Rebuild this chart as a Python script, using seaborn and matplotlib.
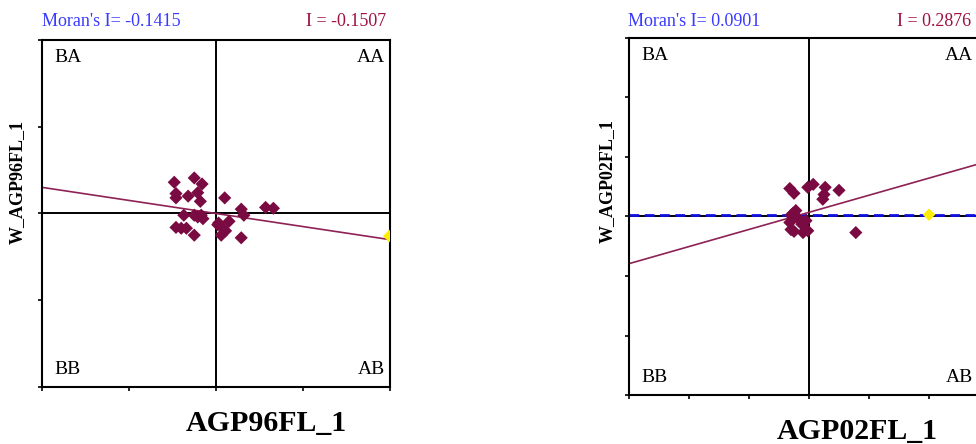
import matplotlib
matplotlib.use("Agg")
import matplotlib.pyplot as plt
import seaborn as sns
import pandas as pd

# panel (a): AGP96FL_1 standardised values and spatial lag
x96 = [-0.48, -0.25, -0.16, -0.46, -0.46, -0.32, -0.21, -0.18, 0.10, -0.37,
       -0.25, -0.17, -0.15, -0.46, -0.40, -0.34, -0.25, 0.03, 0.07, 0.06,
       0.11, 0.15, 0.29, 0.32, 0.29, 0.57, 0.66, -0.21, 0.02]
w96 = [0.36, 0.41, 0.34, 0.23, 0.18, 0.20, 0.24, 0.14, 0.18, -0.02,
       -0.02, -0.02, -0.06, -0.16, -0.17, -0.17, -0.25, -0.11, -0.16, -0.25,
       -0.20, -0.09, 0.05, -0.02, -0.28, 0.07, 0.06, -0.04, -0.13]
hi96 = ([1.99], [-0.26])
moran96 = "Moran's I= -0.1415"
slope96 = -0.1507
icpt96 = 0.0

# panel (b): AGP02FL_1
x02 = [-0.32, -0.25, -0.02, 0.07, 0.27, 0.25, 0.23, 0.50, -0.30, -0.32,
       -0.30, -0.25, -0.12, -0.05, -0.10, -0.02, 0.78, -0.22, -0.18, -0.27]
w02 = [0.47, 0.39, 0.49, 0.54, 0.49, 0.37, 0.29, 0.44, 0.02, -0.10,
       -0.22, -0.25, -0.13, -0.07, -0.27, -0.24, -0.27, 0.10, -0.03, 0.05]
hi02 = ([2.0], [0.03])
moran02 = "Moran's I= 0.0901"
slope02 = 0.2876
icpt02 = 0.07
flat02 = 0.03

quads = ["BA", "AA", "BB", "AB"]

sns.set_style("white")
plt.rcParams["font.family"] = ["Liberation Serif", "DejaVu Serif"]
plt.rcParams["text.color"] = "black"

W, H = 976, 444
fig = plt.figure(figsize=(W / 100, H / 100), dpi=100)
ax1 = fig.add_axes([42 / W, 1 - 387 / H, 348 / W, 347 / H])
ax2 = fig.add_axes([629 / W, 1 - 395 / H, 360 / W, 357 / H])

pt_col = "#7a0a42"
ln_col = "#8e2256"


def panel(ax, xs, ys, hi, slope, icpt, lim, right_pos):
    df = pd.DataFrame({"x": xs, "y": ys})
    ax.axhline(0, color="black", lw=1.4, zorder=1)
    ax.axvline(0, color="black", lw=1.4, zorder=1)
    ax.axline((0, icpt), slope=slope, color=ln_col, lw=1.2, zorder=2)
    sns.scatterplot(data=df, x="x", y="y", ax=ax, marker="D", s=45,
                    color=pt_col, edgecolor="none", zorder=3)
    sns.scatterplot(x=hi[0], y=hi[1], ax=ax, marker="D", s=40,
                    color="#ffee00", edgecolor="none", zorder=4)
    ax.set_xlim(-lim, lim)
    ax.set_ylim(-lim, lim)
    ticks = list(range(-lim, lim + 1))
    ax.set_xticks(ticks)
    ax.set_yticks(ticks)
    ax.set_xticklabels([])
    ax.set_yticklabels([])
    ax.tick_params(axis="both", direction="out", length=3, width=1.2,
                   color="black", bottom=True, left=True)
    ax.set_xlabel("")
    ax.set_ylabel("")
    for s in ax.spines.values():
        s.set_color("black")
        s.set_linewidth(1.5)
    box = dict(facecolor="white", edgecolor="none", pad=2)
    ax.text(0.035, 0.975, quads[0], transform=ax.transAxes, ha="left",
            va="top", fontsize=14, bbox=box, zorder=5)
    ax.text(right_pos, 0.975, quads[1], transform=ax.transAxes, ha="right",
            va="top", fontsize=14, bbox=box, zorder=5)
    ax.text(0.035, 0.025, quads[2], transform=ax.transAxes, ha="left",
            va="bottom", fontsize=14, bbox=box, zorder=5)
    ax.text(right_pos, 0.025, quads[3], transform=ax.transAxes, ha="right",
            va="bottom", fontsize=14, bbox=box, zorder=5)


panel(ax1, x96, w96, hi96, slope96, icpt96, 2, 0.985)
panel(ax2, x02, w02, hi02, slope02, icpt02, 3, 0.955)
ax2.axhline(flat02, color="#1010e0", lw=2, ls=(0, (3.5, 2)), zorder=1.5)

# header texts above each panel
fig.text(42 / W, 1 - 21 / H, moran96, color="#3a3aff", fontsize=13, va="center")
fig.text(386 / W, 1 - 21 / H, "I = %.4f" % slope96, color="#a01040",
         fontsize=13, va="center", ha="right")
fig.text(628 / W, 1 - 21 / H, moran02, color="#3a3aff", fontsize=13, va="center")
fig.text(971 / W, 1 - 21 / H, "I = %.4f" % slope02, color="#a01040",
         fontsize=13, va="center", ha="right")

# axis titles
fig.text(266 / W, 1 - 423 / H, "AGP96FL_1", fontsize=21.5, fontweight="bold",
         ha="center", va="center")
fig.text(857 / W, 1 - 431 / H, "AGP02FL_1", fontsize=21.5, fontweight="bold",
         ha="center", va="center")
fig.text(17 / W, 1 - 182 / H, "W_AGP96FL_1", fontsize=13, fontweight="bold",
         ha="center", va="center", rotation=90)
fig.text(607 / W, 1 - 181 / H, "W_AGP02FL_1", fontsize=13, fontweight="bold",
         ha="center", va="center", rotation=90)

fig.savefig("out.png", dpi=100)
